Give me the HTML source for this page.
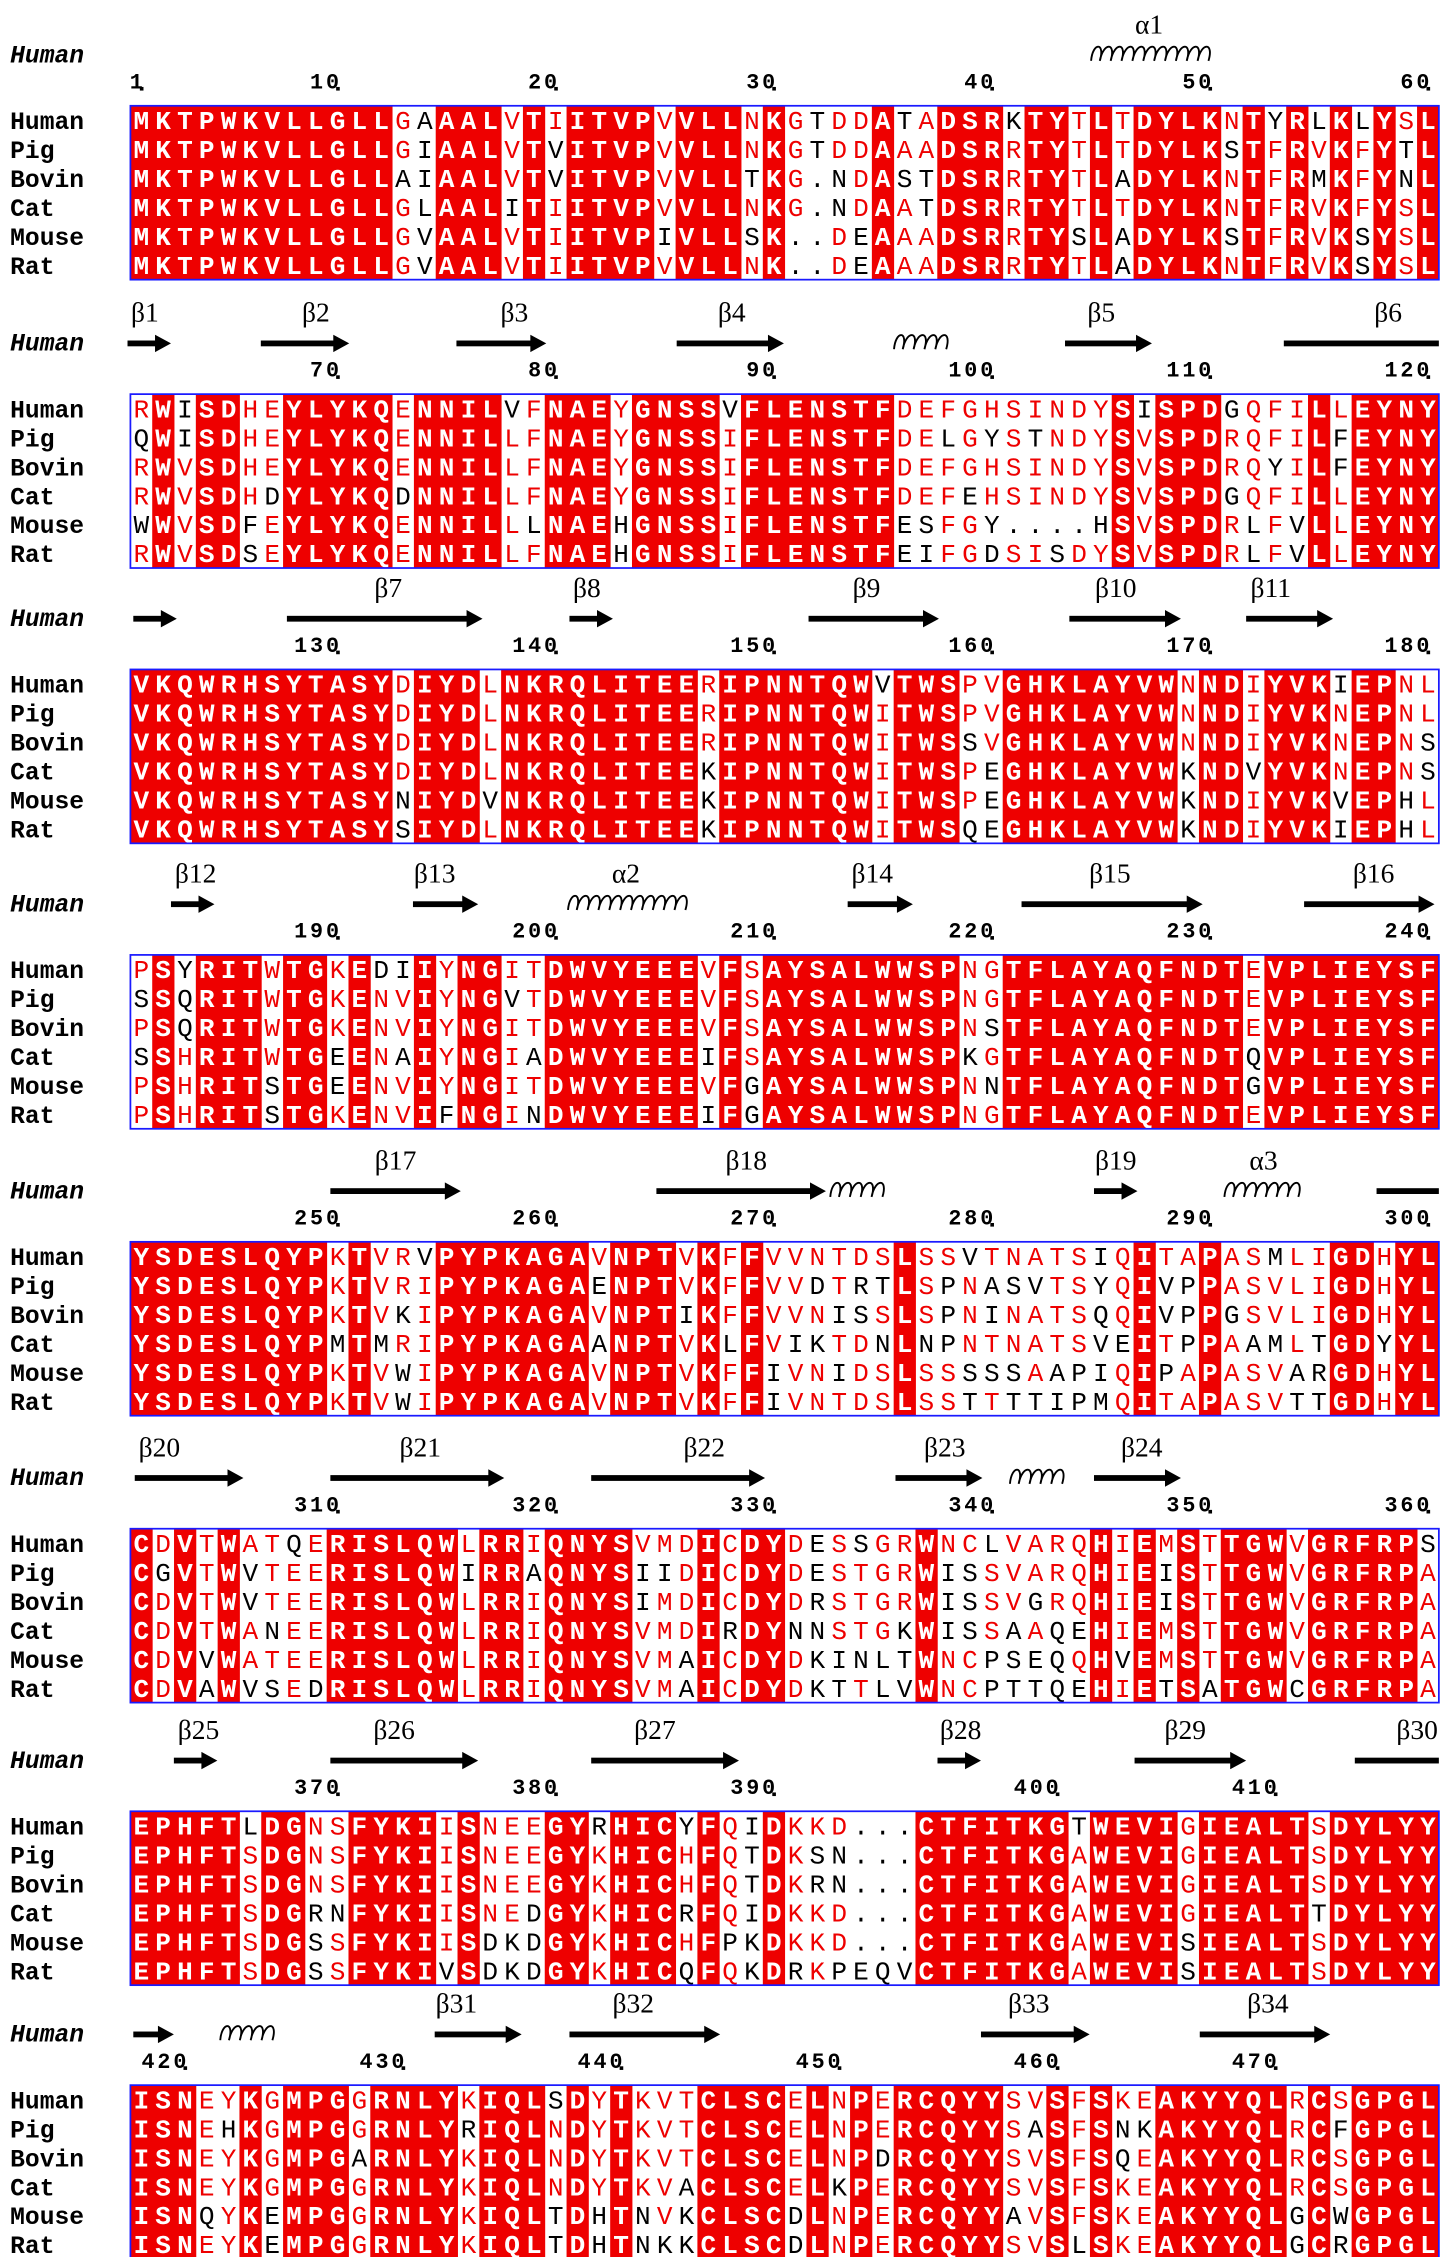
<!DOCTYPE html>
<html><head><meta charset="utf-8"><style>
html,body{margin:0;padding:0;background:#fff}
svg{display:block}
</style></head><body>
<svg id="s" xmlns="http://www.w3.org/2000/svg" width="1449" height="2257" viewBox="0 0 1000 1557.6" preserveAspectRatio="none"></svg>
<script>
const names=["Human","Pig","Bovin","Cat","Mouse","Rat"];
const B=[
["MKTPWKVLLGLLGAAALVTIITVPVVLLNKGTDDATADSRKTYTLTDYLKNTYRLKLYSL",
"MKTPWKVLLGLLGIAALVTVITVPVVLLNKGTDDAAADSRRTYTLTDYLKSTFRVKFYTL",
"MKTPWKVLLGLLAIAALVTVITVPVVLLTKG.NDASTDSRRTYTLADYLKNTFRMKFYNL",
"MKTPWKVLLGLLGLAALITIITVPVVLLNKG.NDAATDSRRTYTLTDYLKNTFRVKFYSL",
"MKTPWKVLLGLLGVAALVTIITVPIVLLSK..DEAAADSRRTYSLADYLKSTFRVKSYSL",
"MKTPWKVLLGLLGVAALVTIITVPVVLLNK..DEAAADSRRTYTLADYLKNTFRVKSYSL"],
["RWISDHEYLYKQENNILVFNAEYGNSSVFLENSTFDEFGHSINDYSISPDGQFILLEYNY",
"QWISDHEYLYKQENNILLFNAEYGNSSIFLENSTFDELGYSTNDYSVSPDRQFILFEYNY",
"RWVSDHEYLYKQENNILLFNAEYGNSSIFLENSTFDEFGHSINDYSVSPDRQYILFEYNY",
"RWVSDHDYLYKQDNNILLFNAEYGNSSIFLENSTFDEFEHSINDYSVSPDGQFILLEYNY",
"WWVSDFEYLYKQENNILLLNAEHGNSSIFLENSTFESFGY....HSVSPDRLFVLLEYNY",
"RWVSDSEYLYKQENNILLFNAEHGNSSIFLENSTFEIFGDSISDYSVSPDRLFVLLEYNY"],
["VKQWRHSYTASYDIYDLNKRQLITEERIPNNTQWVTWSPVGHKLAYVWNNDIYVKIEPNL",
"VKQWRHSYTASYDIYDLNKRQLITEERIPNNTQWITWSPVGHKLAYVWNNDIYVKNEPNL",
"VKQWRHSYTASYDIYDLNKRQLITEERIPNNTQWITWSSVGHKLAYVWNNDIYVKNEPNS",
"VKQWRHSYTASYDIYDLNKRQLITEEKIPNNTQWITWSPEGHKLAYVWKNDVYVKNEPNS",
"VKQWRHSYTASYNIYDVNKRQLITEEKIPNNTQWITWSPEGHKLAYVWKNDIYVKVEPHL",
"VKQWRHSYTASYSIYDLNKRQLITEEKIPNNTQWITWSQEGHKLAYVWKNDIYVKIEPHL"],
["PSYRITWTGKEDIIYNGITDWVYEEEVFSAYSALWWSPNGTFLAYAQFNDTEVPLIEYSF",
"SSQRITWTGKENVIYNGVTDWVYEEEVFSAYSALWWSPNGTFLAYAQFNDTEVPLIEYSF",
"PSQRITWTGKENVIYNGITDWVYEEEVFSAYSALWWSPNSTFLAYAQFNDTEVPLIEYSF",
"SSHRITWTGEENAIYNGIADWVYEEEIFSAYSALWWSPKGTFLAYAQFNDTQVPLIEYSF",
"PSHRITSTGEENVIYNGITDWVYEEEVFGAYSALWWSPNNTFLAYAQFNDTGVPLIEYSF",
"PSHRITSTGKENVIFNGINDWVYEEEIFGAYSALWWSPNGTFLAYAQFNDTEVPLIEYSF"],
["YSDESLQYPKTVRVPYPKAGAVNPTVKFFVVNTDSLSSVTNATSIQITAPASMLIGDHYL",
"YSDESLQYPKTVRIPYPKAGAENPTVKFFVVDTRTLSPNASVTSYQIVPPASVLIGDHYL",
"YSDESLQYPKTVKIPYPKAGAVNPTIKFFVVNISSLSPNINATSQQIVPPGSVLIGDHYL",
"YSDESLQYPMTMRIPYPKAGAANPTVKLFVIKTDNLNPNTNATSVEITPPAAMLTGDYYL",
"YSDESLQYPKTVWIPYPKAGAVNPTVKFFIVNIDSLSSSSSAAPIQIPAPASVARGDHYL",
"YSDESLQYPKTVWIPYPKAGAVNPTVKFFIVNTDSLSSTTTTIPMQITAPASVTTGDHYL"],
["CDVTWATQERISLQWLRRIQNYSVMDICDYDESSGRWNCLVARQHIEMSTTGWVGRFRPS",
"CGVTWVTEERISLQWIRRAQNYSIIDICDYDESTGRWISSVARQHIEISTTGWVGRFRPA",
"CDVTWVTEERISLQWLRRIQNYSIMDICDYDRSTGRWISSVGRQHIEISTTGWVGRFRPA",
"CDVTWANEERISLQWLRRIQNYSVMDIRDYNNSTGKWISSAAQEHIEMSTTGWVGRFRPA",
"CDVVWATEERISLQWLRRIQNYSVMAICDYDKINLTWNCPSEQQHVEMSTTGWVGRFRPA",
"CDVAWVSEDRISLQWLRRIQNYSVMAICDYDKTTLVWNCPTTQEHIETSATGWCGRFRPA"],
["EPHFTLDGNSFYKIISNEEGYRHICYFQIDKKD...CTFITKGTWEVIGIEALTSDYLYY",
"EPHFTSDGNSFYKIISNEEGYKHICHFQTDKSN...CTFITKGAWEVIGIEALTSDYLYY",
"EPHFTSDGNSFYKIISNEEGYKHICHFQTDKRN...CTFITKGAWEVIGIEALTSDYLYY",
"EPHFTSDGRNFYKIISNEDGYKHICRFQIDKKD...CTFITKGAWEVIGIEALTTDYLYY",
"EPHFTSDGSSFYKIISDKDGYKHICHFPKDKKD...CTFITKGAWEVISIEALTSDYLYY",
"EPHFTSDGSSFYKIVSDKDGYKHICQFQKDRKPEQVCTFITKGAWEVISIEALTSDYLYY"],
["ISNEYKGMPGGRNLYKIQLSDYTKVTCLSCELNPERCQYYSVSFSKEAKYYQLRCSGPGL",
"ISNEHKGMPGGRNLYRIQLNDYTKVTCLSCELNPERCQYYSASFSNKAKYYQLRCFGPGL",
"ISNEYKGMPGARNLYKIQLNDYTKVTCLSCELNPDRCQYYSVSFSQEAKYYQLRCSGPGL",
"ISNEYKGMPGGRNLYKIQLNDYTKVACLSCELKPERCQYYSVSFSKEAKYYQLRCSGPGL",
"ISNQYKEMPGGRNLYKIQLTDHTNVKCLSCDLNPERCQYYAVSFSKEAKYYQLGCWGPGL",
"ISNEYKEMPGGRNLYKIQLTDHTNKKCLSCDLNPERCQYYSVSLSKEAKYYQLGCRGPGL"]];
const rowsY=[83,282,472,669,867,1065,1260,1449];
const ticks=[
[[1,1],[10,10],[20,20],[30,30],[40,40],[50,50],[60,60]],
[[10,70],[20,80],[30,90],[40,100],[50,110],[60,120]],
[[10,130],[20,140],[30,150],[40,160],[50,170],[60,180]],
[[10,190],[20,200],[30,210],[40,220],[50,230],[60,240]],
[[10,250],[20,260],[30,270],[40,280],[50,290],[60,300]],
[[10,310],[20,320],[30,330],[40,340],[50,350],[60,360]],
[[10,370],[20,380],[30,390],[43,400],[53,410]],
[[3,420],[13,430],[23,440],[33,450],[43,460],[53,470]]];
// ss: [type,x1,x2,label,labelx]  type a=arrow,l=line,h=helix
const SS=[
[["h",753,840,"α1",793]],
[["a",88,118,"β1",100],["a",180,241,"β2",218],["a",315,377,"β3",355],["a",467,541,"β4",505],["h",617,660],["a",735,795,"β5",760],["l",886,993,"β6",958]],
[["a",92,122],["a",198,333,"β7",268],["a",393,423,"β8",405],["a",558,648,"β9",598],["a",738,815,"β10",770],["a",860,920,"β11",877]],
[["a",118,148,"β12",135],["a",285,330,"β13",300],["h",392,480,"α2",432],["a",585,630,"β14",602],["a",705,830,"β15",766],["a",900,990,"β16",948]],
[["a",228,318,"β17",273],["a",453,570,"β18",515],["h",573,617],["a",755,785,"β19",770],["h",845,903,"α3",872],["l",950,993]],
[["a",93,168,"β20",110],["a",228,348,"β21",290],["a",408,528,"β22",486],["a",618,678,"β23",652],["h",697,740],["a",755,815,"β24",788]],
[["a",120,150,"β25",137],["a",228,330,"β26",272],["a",408,510,"β27",452],["a",647,677,"β28",663],["a",783,860,"β29",818],["l",935,993,"β30",978]],
[["a",92,120],["h",152,195],["a",300,360,"β31",315],["a",393,497,"β32",437],["a",677,752,"β33",710],["a",828,918,"β34",875]]];
const W=15.05,X0=90;
let o=[];
const cx=c=>X0+W*(c-0.5);
B.forEach((blk,k)=>{
  const ry=rowsY[k], d=ry-83;
  // label Human
  o.push(`<text x="7" y="${43+d}" font-family="Liberation Mono,monospace" font-weight="bold" font-style="italic" font-size="17">Human</text>`);
  SS[k].forEach(s=>{
    const y=38+d;
    if(s[0]=="a"){o.push(`<rect x="${s[1]}" y="${y-2}" width="${s[2]-s[1]-9}" height="4" fill="#000"/><polygon points="${s[2]-11},${y-6} ${s[2]},${y} ${s[2]-11},${y+6}" fill="#000"/>`);}
    else if(s[0]=="l"){o.push(`<rect x="${s[1]}" y="${y-2}" width="${s[2]-s[1]}" height="4" fill="#000"/>`);}
    else{let p=`M${s[1]},${y+4}`;let x=s[1];while(x+9<=s[2]){p+=` C${x+1},${y-9} ${x+10},${y-9} ${x+6},${y+4}`;x+=7.5;}o.push(`<path d="${p}" fill="none" stroke="#000" stroke-width="1.3"/>`);}
    if(s[3])o.push(`<text x="${s[4]}" y="${23+d}" text-anchor="middle" font-family="Liberation Serif,serif" font-size="19">${s[3]}</text>`);
  });
  ticks[k].forEach(t=>{const x=cx(t[0]);
    o.push(`<text x="${x+3}" y="${61+d}" text-anchor="end" font-family="Liberation Mono,monospace" font-weight="bold" font-size="15" letter-spacing="2">${t[1]}</text><rect x="${x-1}" y="${60+d}" width="2.5" height="2.5" fill="#000"/>`);});
  const top=ry-10, bot=ry+100+10;
  for(let c=1;c<=60;c++){
    const col=blk.map(r=>r[c-1]);
    const cnt={};col.forEach(ch=>{if(ch!='.')cnt[ch]=(cnt[ch]||0)+1});
    let best='',bc=0;for(const ch in cnt)if(cnt[ch]>bc){bc=cnt[ch];best=ch;}
    const ident=bc==6;
    const x=cx(c);
    if(ident)o.push(`<rect x="${X0+W*(c-1)}" y="${top}" width="${W+0.3}" height="${bot-top}" fill="#ee0000"/>`);
    col.forEach((ch,i)=>{
      const y=ry+i*20+6;
      let fill,fw="normal";
      if(ident){fill="#fff";fw="bold";}
      else if(bc>=3&&ch==best)fill="#ee0000";
      else fill="#000";
      o.push(`<text x="${x}" y="${y}" text-anchor="middle" fill="${fill}" font-weight="${fw}" font-family="Liberation Mono,monospace" font-size="18">${ch}</text>`);
    });
  }
  o.push(`<rect x="${X0}" y="${top}" width="${W*60}" height="${bot-top}" fill="none" stroke="#1a1aff" stroke-width="1.2"/>`);
  names.forEach((n,i)=>o.push(`<text x="7" y="${ry+i*20+6}" font-family="Liberation Mono,monospace" font-weight="bold" font-size="17">${n}</text>`));
});
document.getElementById('s').innerHTML=o.join('');
</script>
</body></html>
